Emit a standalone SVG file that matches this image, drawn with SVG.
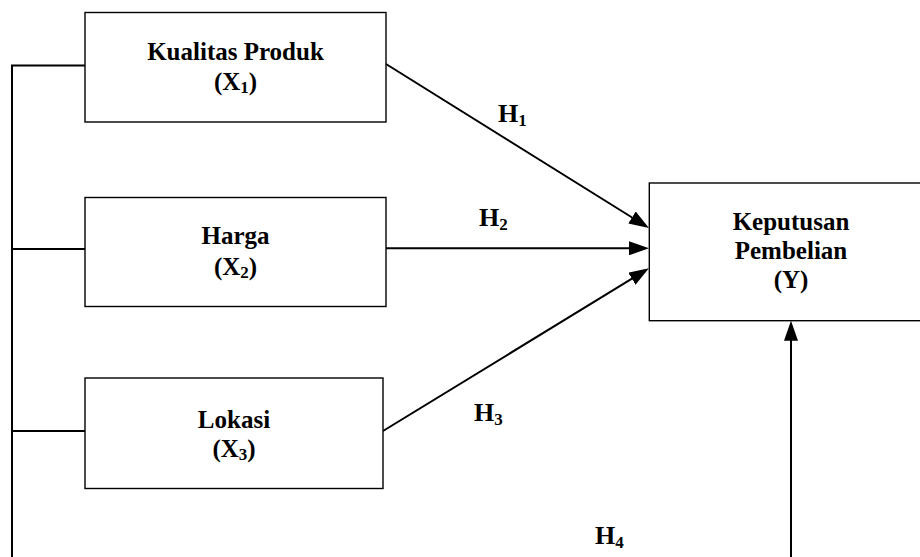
<svg xmlns="http://www.w3.org/2000/svg" width="920" height="557" viewBox="0 0 920 557">
<style>
.box{fill:#fff;stroke:#000;stroke-width:1.4}
.t{font-family:"Liberation Serif","Times New Roman",serif;font-weight:bold;font-size:25px;fill:#000;text-anchor:middle}
.h{font-family:"Liberation Serif","Times New Roman",serif;font-weight:bold;font-size:26px;fill:#000}
.sub{font-size:17px}
.c{stroke:#000;stroke-width:2;fill:none}
</style>
<defs>
<marker id="arr" markerUnits="userSpaceOnUse" markerWidth="20" markerHeight="14" refX="2" refY="7" orient="auto">
<path d="M0,0 L20,7 L0,14 z" fill="#000"/>
</marker>
</defs>
<g id="connectors">
<path class="c" d="M12,557 L12,65.5 L85,65.5"/>
<path class="c" d="M12,249 L85,249"/>
<path class="c" d="M12,431 L85,431"/>
<line class="c" x1="386" y1="64" x2="633.7" y2="218.5" marker-end="url(#arr)"/>
<line class="c" x1="386" y1="248.3" x2="631" y2="248.3" marker-end="url(#arr)"/>
<line class="c" x1="383" y1="431" x2="633.6" y2="277.7" marker-end="url(#arr)"/>
<line class="c" x1="791" y1="557" x2="791" y2="338.7" marker-end="url(#arr)"/>
<text class="h" x="498" y="122">H<tspan class="sub" dy="4">1</tspan></text>
<text class="h" x="479" y="226">H<tspan class="sub" dy="4">2</tspan></text>
<text class="h" x="474" y="421">H<tspan class="sub" dy="4">3</tspan></text>
<text class="h" x="595" y="544">H<tspan class="sub" dy="4">4</tspan></text>
</g>
<g id="x1">
<rect class="box" x="85" y="12.5" width="301" height="109.5"/>
<text class="t" x="235.5" y="60">Kualitas Produk</text>
<text class="t" x="235.5" y="90">(X<tspan class="sub" dy="3">1</tspan><tspan dy="-3">)</tspan></text>
</g>
<g id="x2">
<rect class="box" x="85" y="197.5" width="301" height="109"/>
<text class="t" x="235.5" y="244.3">Harga</text>
<text class="t" x="235.5" y="275">(X<tspan class="sub" dy="3">2</tspan><tspan dy="-3">)</tspan></text>
</g>
<g id="x3">
<rect class="box" x="85" y="378" width="298" height="110.5"/>
<text class="t" x="234" y="428.3">Lokasi</text>
<text class="t" x="234" y="456.7">(X<tspan class="sub" dy="3">3</tspan><tspan dy="-3">)</tspan></text>
</g>
<g id="y">
<rect class="box" x="649.3" y="183" width="284" height="137.7"/>
<text class="t" x="791" y="230">Keputusan</text>
<text class="t" x="791" y="259.3">Pembelian</text>
<text class="t" x="791" y="288">(Y)</text>
</g>
</svg>
